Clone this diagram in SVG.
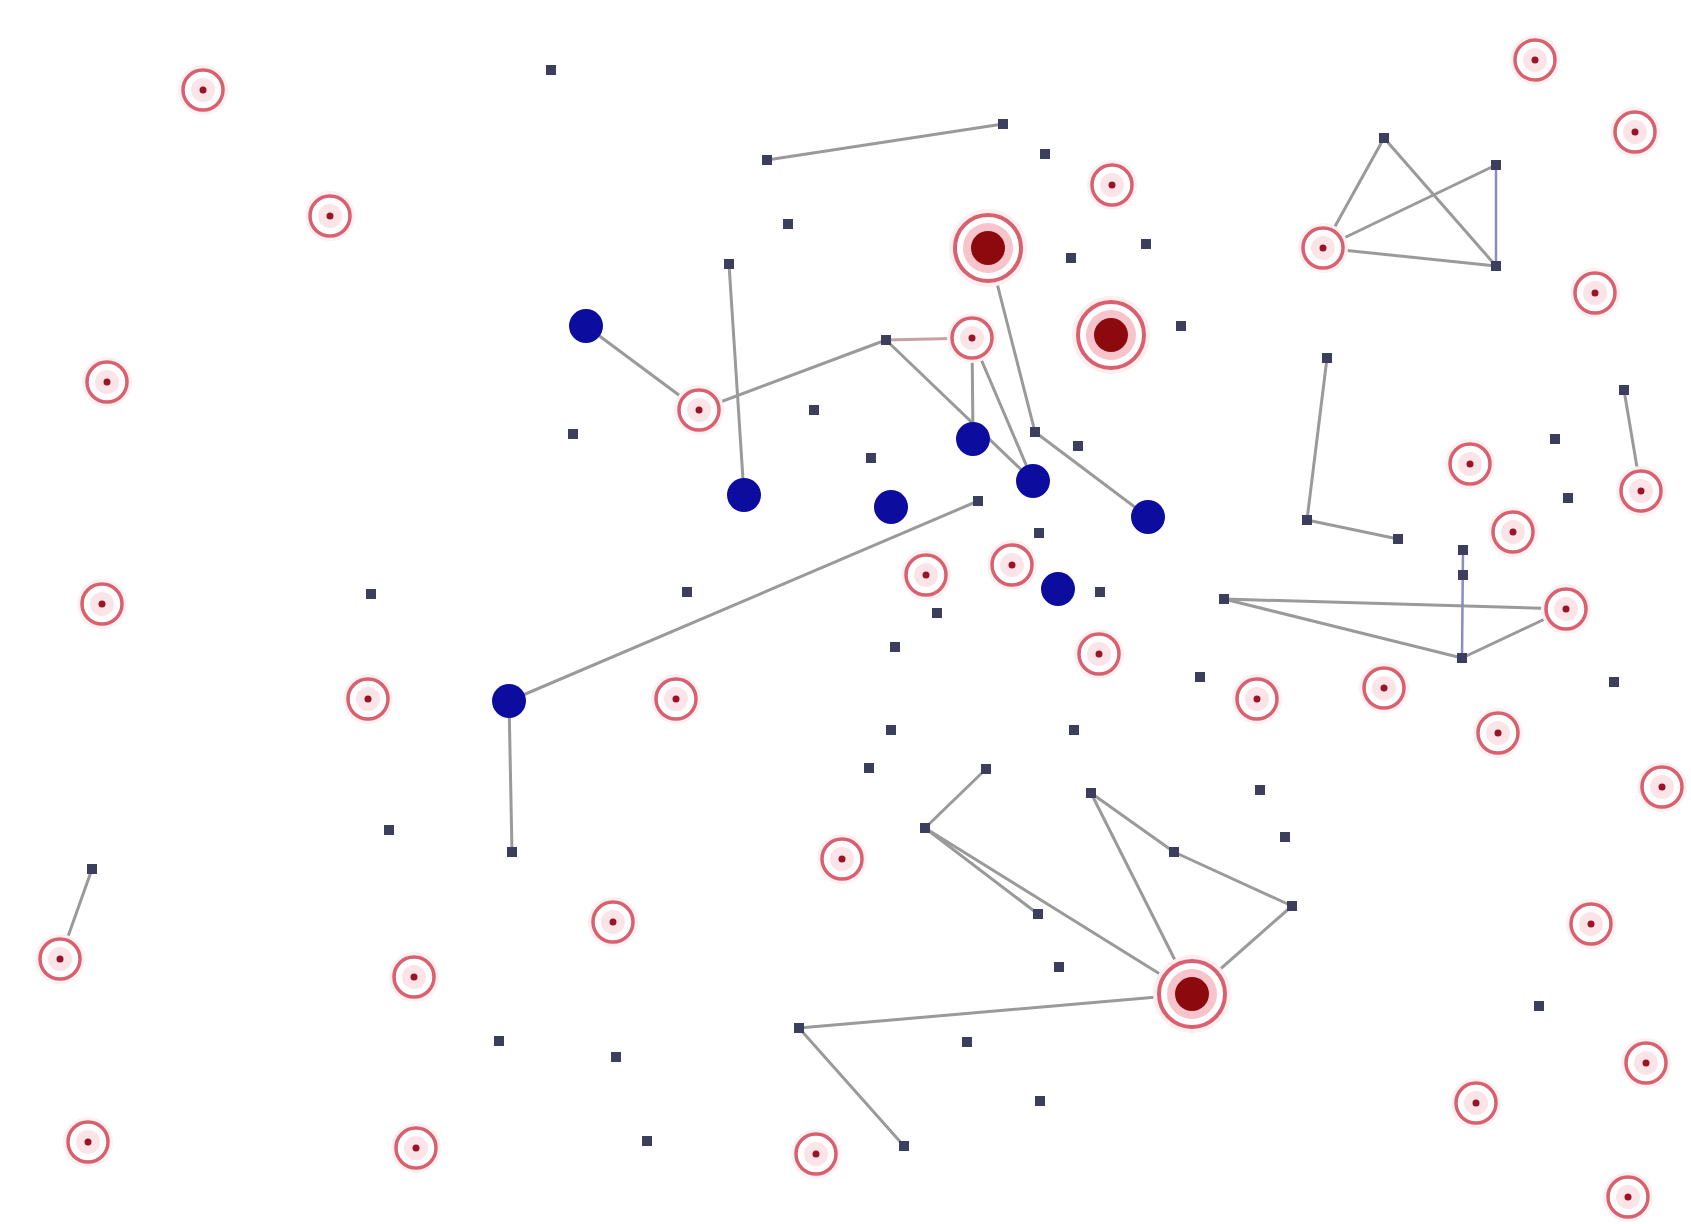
<svg xmlns="http://www.w3.org/2000/svg" xmlns:xlink="http://www.w3.org/1999/xlink" width="1691" height="1224" viewBox="0 0 1691 1224">
  <style>
    .edge { stroke: #9a9a9a; stroke-width: 3; stroke-linecap: round; fill: none; }
    .edge.pink { stroke: #c9a0a4; }
    .edge.blue { stroke: #8a8ac8; stroke-width: 2.5; }
  </style>
  <defs>
    <!-- small red target node -->
    <g id="ring">
      <circle r="25" fill="#fdf0f2"/>
      <circle r="20" fill="#ffffff" stroke="#d9606e" stroke-width="3.5"/>
      <circle r="12" fill="#fbe4e7"/>
      <circle r="3.5" fill="#9a1428"/>
    </g>
    <!-- large red hub node -->
    <g id="hub">
      <circle r="39" fill="#fdeef0"/>
      <circle r="33" fill="#ffffff" stroke="#d9606e" stroke-width="4"/>
      <circle r="25" fill="#f6c4ca"/>
      <circle r="17" fill="#8c0a0e"/>
    </g>
    <!-- blue node -->
    <circle id="blue" r="17" fill="#0c0c9e"/>
    <!-- small square node -->
    <rect id="sq" x="-5" y="-5" width="10" height="10" fill="#3d3d5e"/>
  </defs>

  <rect width="1691" height="1224" fill="#ffffff"/>

  <g id="connectors">
    <line class="edge" x1="767" y1="160" x2="1003" y2="124"/>
    <line class="edge" x1="586" y1="326" x2="699" y2="410"/>
    <line class="edge" x1="699" y1="410" x2="886" y2="340"/>
    <line class="edge pink" x1="886" y1="340" x2="972" y2="338"/>
    <line class="edge" x1="729" y1="264" x2="744" y2="495"/>
    <line class="edge" x1="886" y1="340" x2="1033" y2="481"/>
    <line class="edge" x1="972" y1="338" x2="973" y2="439"/>
    <line class="edge" x1="972" y1="338" x2="1033" y2="481"/>
    <line class="edge" x1="988" y1="248" x2="1035" y2="432"/>
    <line class="edge" x1="1035" y1="432" x2="1148" y2="517"/>
    <line class="edge" x1="1384" y1="138" x2="1323" y2="248"/>
    <line class="edge" x1="1384" y1="138" x2="1496" y2="266"/>
    <line class="edge" x1="1323" y1="248" x2="1496" y2="165"/>
    <line class="edge" x1="1323" y1="248" x2="1496" y2="266"/>
    <line class="edge blue" x1="1496" y1="165" x2="1496" y2="266"/>
    <line class="edge" x1="1327" y1="358" x2="1307" y2="520"/>
    <line class="edge" x1="1307" y1="520" x2="1398" y2="539"/>
    <line class="edge" x1="1624" y1="390" x2="1641" y2="491"/>
    <line class="edge" x1="1224" y1="599" x2="1566" y2="609"/>
    <line class="edge" x1="1224" y1="599" x2="1462" y2="658"/>
    <line class="edge" x1="1462" y1="658" x2="1566" y2="609"/>
    <line class="edge blue" x1="1463" y1="550" x2="1462" y2="658"/>
    <line class="edge" x1="509" y1="701" x2="978" y2="501"/>
    <line class="edge" x1="509" y1="701" x2="512" y2="852"/>
    <line class="edge" x1="92" y1="869" x2="60" y2="959"/>
    <line class="edge" x1="986" y1="769" x2="925" y2="828"/>
    <line class="edge" x1="925" y1="828" x2="1038" y2="914"/>
    <line class="edge" x1="925" y1="828" x2="1192" y2="994"/>
    <line class="edge" x1="1091" y1="793" x2="1174" y2="852"/>
    <line class="edge" x1="1174" y1="852" x2="1292" y2="906"/>
    <line class="edge" x1="1091" y1="793" x2="1192" y2="994"/>
    <line class="edge" x1="1292" y1="906" x2="1192" y2="994"/>
    <line class="edge" x1="799" y1="1028" x2="1192" y2="994"/>
    <line class="edge" x1="799" y1="1028" x2="904" y2="1146"/>
  </g>

  <g id="nodes">
    <!-- small squares -->
    <g id="s1" transform="translate(551,70)"><use href="#sq"/></g>
    <g id="s2" transform="translate(767,160)"><use href="#sq"/></g>
    <g id="s3" transform="translate(1003,124)"><use href="#sq"/></g>
    <g id="s4" transform="translate(1045,154)"><use href="#sq"/></g>
    <g id="s5" transform="translate(788,224)"><use href="#sq"/></g>
    <g id="s6" transform="translate(729,264)"><use href="#sq"/></g>
    <g id="s7" transform="translate(1071,258)"><use href="#sq"/></g>
    <g id="s8" transform="translate(1146,244)"><use href="#sq"/></g>
    <g id="s9" transform="translate(1181,326)"><use href="#sq"/></g>
    <g id="s10" transform="translate(886,340)"><use href="#sq"/></g>
    <g id="s11" transform="translate(814,410)"><use href="#sq"/></g>
    <g id="s12" transform="translate(573,434)"><use href="#sq"/></g>
    <g id="s13" transform="translate(1035,432)"><use href="#sq"/></g>
    <g id="s14" transform="translate(1078,446)"><use href="#sq"/></g>
    <g id="s15" transform="translate(871,458)"><use href="#sq"/></g>
    <g id="s16" transform="translate(978,501)"><use href="#sq"/></g>
    <g id="s17" transform="translate(1039,533)"><use href="#sq"/></g>
    <g id="s18" transform="translate(1100,592)"><use href="#sq"/></g>
    <g id="s19" transform="translate(687,592)"><use href="#sq"/></g>
    <g id="s20" transform="translate(371,594)"><use href="#sq"/></g>
    <g id="s21" transform="translate(937,613)"><use href="#sq"/></g>
    <g id="s22" transform="translate(895,647)"><use href="#sq"/></g>
    <g id="s23" transform="translate(1200,677)"><use href="#sq"/></g>
    <g id="s24" transform="translate(891,730)"><use href="#sq"/></g>
    <g id="s25" transform="translate(1074,730)"><use href="#sq"/></g>
    <g id="s26" transform="translate(869,768)"><use href="#sq"/></g>
    <g id="s27" transform="translate(986,769)"><use href="#sq"/></g>
    <g id="s28" transform="translate(1091,793)"><use href="#sq"/></g>
    <g id="s29" transform="translate(1260,790)"><use href="#sq"/></g>
    <g id="s30" transform="translate(1285,837)"><use href="#sq"/></g>
    <g id="s31" transform="translate(925,828)"><use href="#sq"/></g>
    <g id="s32" transform="translate(1174,852)"><use href="#sq"/></g>
    <g id="s33" transform="translate(1292,906)"><use href="#sq"/></g>
    <g id="s34" transform="translate(1038,914)"><use href="#sq"/></g>
    <g id="s35" transform="translate(1059,967)"><use href="#sq"/></g>
    <g id="s36" transform="translate(512,852)"><use href="#sq"/></g>
    <g id="s37" transform="translate(389,830)"><use href="#sq"/></g>
    <g id="s38" transform="translate(92,869)"><use href="#sq"/></g>
    <g id="s39" transform="translate(799,1028)"><use href="#sq"/></g>
    <g id="s40" transform="translate(967,1042)"><use href="#sq"/></g>
    <g id="s41" transform="translate(499,1041)"><use href="#sq"/></g>
    <g id="s42" transform="translate(616,1057)"><use href="#sq"/></g>
    <g id="s43" transform="translate(647,1141)"><use href="#sq"/></g>
    <g id="s44" transform="translate(904,1146)"><use href="#sq"/></g>
    <g id="s45" transform="translate(1040,1101)"><use href="#sq"/></g>
    <g id="s46" transform="translate(1384,138)"><use href="#sq"/></g>
    <g id="s47" transform="translate(1496,165)"><use href="#sq"/></g>
    <g id="s48" transform="translate(1496,266)"><use href="#sq"/></g>
    <g id="s49" transform="translate(1327,358)"><use href="#sq"/></g>
    <g id="s50" transform="translate(1307,520)"><use href="#sq"/></g>
    <g id="s51" transform="translate(1398,539)"><use href="#sq"/></g>
    <g id="s52" transform="translate(1624,390)"><use href="#sq"/></g>
    <g id="s53" transform="translate(1555,439)"><use href="#sq"/></g>
    <g id="s54" transform="translate(1568,498)"><use href="#sq"/></g>
    <g id="s55" transform="translate(1463,550)"><use href="#sq"/></g>
    <g id="s56" transform="translate(1463,575)"><use href="#sq"/></g>
    <g id="s57" transform="translate(1224,599)"><use href="#sq"/></g>
    <g id="s58" transform="translate(1462,658)"><use href="#sq"/></g>
    <g id="s59" transform="translate(1614,682)"><use href="#sq"/></g>
    <g id="s60" transform="translate(1539,1006)"><use href="#sq"/></g>

    <!-- blue nodes -->
    <g id="b1" transform="translate(586,326)"><use href="#blue"/></g>
    <g id="b2" transform="translate(744,495)"><use href="#blue"/></g>
    <g id="b3" transform="translate(891,507)"><use href="#blue"/></g>
    <g id="b4" transform="translate(973,439)"><use href="#blue"/></g>
    <g id="b5" transform="translate(1033,481)"><use href="#blue"/></g>
    <g id="b6" transform="translate(1148,517)"><use href="#blue"/></g>
    <g id="b7" transform="translate(1058,589)"><use href="#blue"/></g>
    <g id="b8" transform="translate(509,701)"><use href="#blue"/></g>

    <!-- red target nodes -->
    <g id="r1" transform="translate(203,90)"><use href="#ring"/></g>
    <g id="r2" transform="translate(330,216)"><use href="#ring"/></g>
    <g id="r3" transform="translate(107,382)"><use href="#ring"/></g>
    <g id="r4" transform="translate(102,604)"><use href="#ring"/></g>
    <g id="r5" transform="translate(368,699)"><use href="#ring"/></g>
    <g id="r6" transform="translate(676,699)"><use href="#ring"/></g>
    <g id="r7" transform="translate(699,410)"><use href="#ring"/></g>
    <g id="r8" transform="translate(972,338)"><use href="#ring"/></g>
    <g id="r9" transform="translate(1112,185)"><use href="#ring"/></g>
    <g id="r10" transform="translate(1535,60)"><use href="#ring"/></g>
    <g id="r11" transform="translate(1635,132)"><use href="#ring"/></g>
    <g id="r12" transform="translate(1595,293)"><use href="#ring"/></g>
    <g id="r13" transform="translate(1323,248)"><use href="#ring"/></g>
    <g id="r14" transform="translate(1470,464)"><use href="#ring"/></g>
    <g id="r15" transform="translate(1641,491)"><use href="#ring"/></g>
    <g id="r16" transform="translate(1513,532)"><use href="#ring"/></g>
    <g id="r17" transform="translate(1566,609)"><use href="#ring"/></g>
    <g id="r18" transform="translate(926,575)"><use href="#ring"/></g>
    <g id="r19" transform="translate(1012,565)"><use href="#ring"/></g>
    <g id="r20" transform="translate(1099,654)"><use href="#ring"/></g>
    <g id="r21" transform="translate(1257,699)"><use href="#ring"/></g>
    <g id="r22" transform="translate(1384,688)"><use href="#ring"/></g>
    <g id="r23" transform="translate(1498,733)"><use href="#ring"/></g>
    <g id="r24" transform="translate(1662,787)"><use href="#ring"/></g>
    <g id="r25" transform="translate(842,859)"><use href="#ring"/></g>
    <g id="r26" transform="translate(613,922)"><use href="#ring"/></g>
    <g id="r27" transform="translate(60,959)"><use href="#ring"/></g>
    <g id="r28" transform="translate(414,977)"><use href="#ring"/></g>
    <g id="r29" transform="translate(88,1142)"><use href="#ring"/></g>
    <g id="r30" transform="translate(416,1148)"><use href="#ring"/></g>
    <g id="r31" transform="translate(816,1154)"><use href="#ring"/></g>
    <g id="r32" transform="translate(1591,924)"><use href="#ring"/></g>
    <g id="r33" transform="translate(1646,1063)"><use href="#ring"/></g>
    <g id="r34" transform="translate(1476,1103)"><use href="#ring"/></g>
    <g id="r35" transform="translate(1628,1197)"><use href="#ring"/></g>

    <!-- red hub nodes -->
    <g id="h1" transform="translate(988,248)"><use href="#hub"/></g>
    <g id="h2" transform="translate(1111,335)"><use href="#hub"/></g>
    <g id="h3" transform="translate(1192,994)"><use href="#hub"/></g>
  </g>
</svg>
